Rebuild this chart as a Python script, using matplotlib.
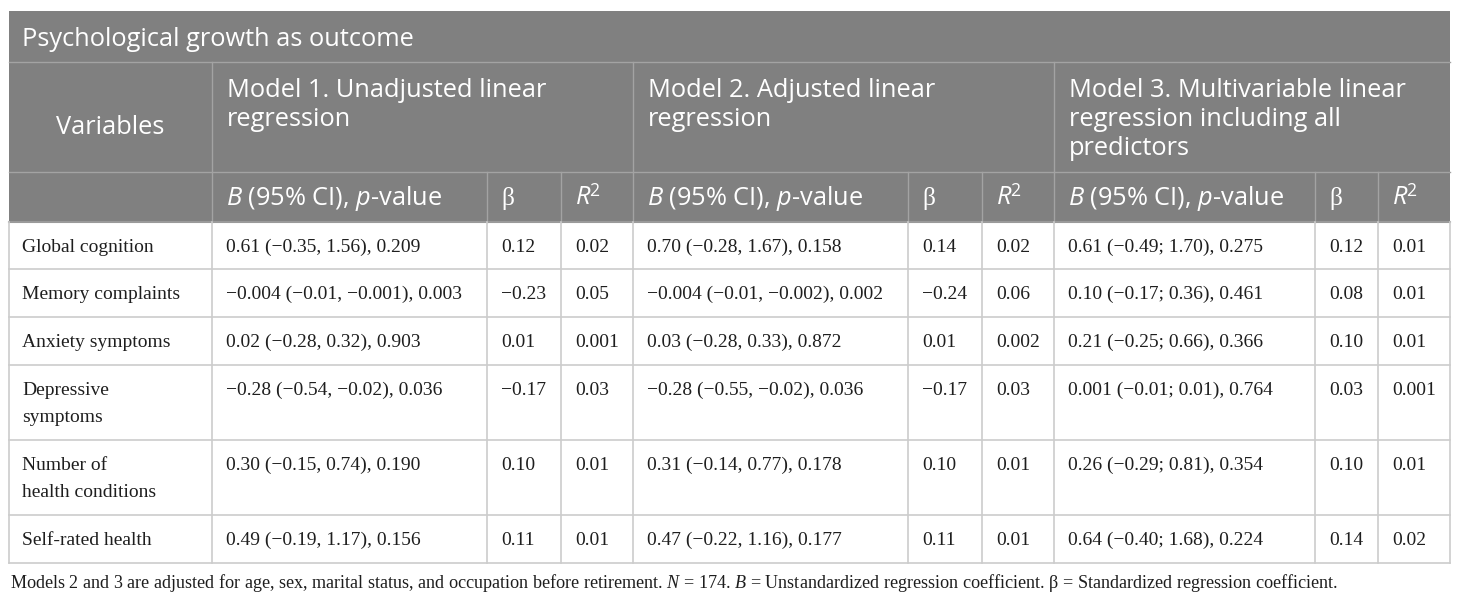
import matplotlib
matplotlib.use('Agg')
import matplotlib.pyplot as plt

plt.rcParams['mathtext.fontset'] = 'custom'
plt.rcParams['mathtext.rm'] = 'Open Sans'
plt.rcParams['mathtext.sf'] = 'Open Sans:italic'
plt.rcParams['mathtext.it'] = 'Liberation Serif:italic'

# table content
title = 'Psychological growth as outcome'
first_col = 'Variables'
model_titles = [['Model 1. Unadjusted linear', 'regression'],
                ['Model 2. Adjusted linear', 'regression'],
                ['Model 3. Multivariable linear', 'regression including all', 'predictors']]
sub_heads = ['$\\mathsf{B}$ (95% CI), $\\mathsf{p}$-value', '\u03b2', '$\\mathsf{R}^{\\mathrm{2}}$']

variables = [['Global cognition'], ['Memory complaints'], ['Anxiety symptoms'],
             ['Depressive', 'symptoms'], ['Number of', 'health conditions'], ['Self-rated health']]
m1_b = ['0.61 (\u22120.35, 1.56), 0.209', '\u22120.004 (\u22120.01, \u22120.001), 0.003',
        '0.02 (\u22120.28, 0.32), 0.903', '\u22120.28 (\u22120.54, \u22120.02), 0.036',
        '0.30 (\u22120.15, 0.74), 0.190', '0.49 (\u22120.19, 1.17), 0.156']
m1_beta = ['0.12', '\u22120.23', '0.01', '\u22120.17', '0.10', '0.11']
m1_r2 = ['0.02', '0.05', '0.001', '0.03', '0.01', '0.01']
m2_b = ['0.70 (\u22120.28, 1.67), 0.158', '\u22120.004 (\u22120.01, \u22120.002), 0.002',
        '0.03 (\u22120.28, 0.33), 0.872', '\u22120.28 (\u22120.55, \u22120.02), 0.036',
        '0.31 (\u22120.14, 0.77), 0.178', '0.47 (\u22120.22, 1.16), 0.177']
m2_beta = ['0.14', '\u22120.24', '0.01', '\u22120.17', '0.10', '0.11']
m2_r2 = ['0.02', '0.06', '0.002', '0.03', '0.01', '0.01']
m3_b = ['0.61 (\u22120.49; 1.70), 0.275', '0.10 (\u22120.17; 0.36), 0.461',
        '0.21 (\u22120.25; 0.66), 0.366', '0.001 (\u22120.01; 0.01), 0.764',
        '0.26 (\u22120.29; 0.81), 0.354', '0.64 (\u22120.40; 1.68), 0.224']
m3_beta = ['0.12', '0.08', '0.10', '0.03', '0.10', '0.14']
m3_r2 = ['0.01', '0.01', '0.01', '0.001', '0.01', '0.02']
footnote = ('Models 2 and 3 are adjusted for age, sex, marital status, and occupation before retirement. '
            '$N$ = 174. $B$ = Unstandardized regression coefficient. \u03b2 = Standardized regression coefficient.')

# layout in pixels
col_x = [9, 212, 487, 561, 633, 908, 982, 1054, 1315, 1378, 1450]
row_y = [11, 62, 172, 222, 269, 317, 365, 440, 515, 563]

head_bg = '#808080'
head_line = '#a3a3a3'
body_line = '#cccccc'
ink = '#1e1e1e'
hfont = 'Open Sans'
bfont = 'Liberation Serif'
hsize = 18.3
bsize = 14

fig = plt.figure(figsize=(14.6, 6.03), dpi=100)
ax = fig.add_axes([0, 0, 1, 1])
ax.set_xlim(0, 1460)
ax.set_ylim(603, 0)
ax.axis('off')

# header background
ax.add_patch(plt.Rectangle((col_x[0], row_y[0]), col_x[-1] - col_x[0], row_y[3] - row_y[0],
                           color=head_bg, lw=0))
ax.plot([col_x[0], col_x[-1]], [row_y[1]] * 2, color=head_line, lw=1)
ax.plot([col_x[0], col_x[-1]], [row_y[2]] * 2, color=head_line, lw=1)
for x in [col_x[1], col_x[4], col_x[7]]:
    ax.plot([x, x], [row_y[1], row_y[3]], color=head_line, lw=1)
for x in [col_x[2], col_x[3], col_x[5], col_x[6], col_x[8], col_x[9]]:
    ax.plot([x, x], [row_y[2], row_y[3]], color=head_line, lw=1)

# body grid
for y in row_y[4:]:
    ax.plot([col_x[0], col_x[-1]], [y, y], color=body_line, lw=1.2)
ax.plot([col_x[0], col_x[-1]], [row_y[3], row_y[3]], color='#9a9a9a', lw=1.5)
for x in col_x:
    ax.plot([x, x], [row_y[3], row_y[-1]], color=body_line, lw=1.2)

# header text
ax.text(22, 46, title, fontsize=hsize, family=hfont, color='white', va='baseline')
ax.text((col_x[0] + col_x[1]) / 2, 134, first_col, fontsize=hsize, family=hfont,
        color='white', va='baseline', ha='center')
for i, lines in enumerate(model_titles):
    for j, line in enumerate(lines):
        ax.text(col_x[1 + 3 * i] + 15, 97 + 29 * j, line, fontsize=hsize, family=hfont,
                color='white', va='baseline')
    for k, s in enumerate(sub_heads):
        fam = bfont if s == '\u03b2' else hfont
        ax.text(col_x[1 + 3 * i + k] + 14, 205, s, fontsize=hsize, family=fam,
                color='white', va='baseline')

# body text
columns = [m1_b, m1_beta, m1_r2, m2_b, m2_beta, m2_r2, m3_b, m3_beta, m3_r2]
for r, name in enumerate(variables):
    top = row_y[3 + r]
    for j, line in enumerate(name):
        ax.text(22, top + 30 + 27 * j, line, fontsize=bsize, family=bfont, color=ink,
                va='baseline')
    for c, col in enumerate(columns):
        ax.text(col_x[1 + c] + 14, top + 30, col[r], fontsize=bsize, family=bfont,
                color=ink, va='baseline')

ax.text(10, 588, footnote, fontsize=13.1, family=bfont, color=ink, va='baseline')

fig.savefig('out.png', dpi=100)
